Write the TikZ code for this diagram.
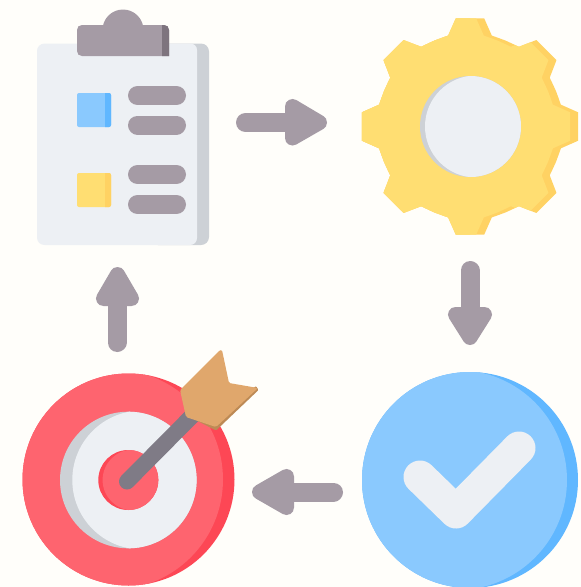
\documentclass[tikz,border=0pt]{standalone}
\definecolor{bgc}{HTML}{FFFEFA}
\definecolor{paper}{HTML}{EDF0F4}
\definecolor{papers}{HTML}{CDD1D6}
\definecolor{mauve}{HTML}{A59BA5}
\definecolor{mauved}{HTML}{7E747E}
\definecolor{sky}{HTML}{8AC9FE}
\definecolor{skyd}{HTML}{60B7FF}
\definecolor{sun}{HTML}{FFDE72}
\definecolor{sund}{HTML}{FFD263}
\definecolor{rose}{HTML}{FE646F}
\definecolor{rosed}{HTML}{FD4755}
\definecolor{shaft}{HTML}{7F7B86}
\definecolor{tan}{HTML}{E0A76C}
\definecolor{tand}{HTML}{BD8A55}
\newcommand\gearoutline{(-13:93.5) \foreach \a in {0,45,...,315}{
  -- ({\a-13.5}:93.5) -- ({\a-7.5}:109) -- ({\a+7.5}:109) -- ({\a+13.5}:93.5)
  -- ({\a+18}:93) -- ({\a+22.5}:93) -- ({\a+27}:93)} -- cycle}
\tikzset{
  bar/.style={line width=19pt,line cap=round,draw=mauve},
  arrowbar/.style={line width=19pt,line cap=round,draw=mauve},
  arrowtip/.style={fill=mauve,draw=mauve,line width=15pt,line join=round},
}
\begin{document}
\begin{tikzpicture}[x=1pt,y=-1pt]
\useasboundingbox (0,0) rectangle (581,587);
\fill[bgc] (0,0) rectangle (581,587);
% clipboard
\fill[papers,rounded corners=8pt] (150,43.5) rectangle (209,245);
\fill[paper] (45,43.5) -- (190,43.5) .. controls (194,43.5) and (197,46) .. (197,50) -- (197,238) .. controls (197,242) and (194,245) .. (190,245) -- (45,245) .. controls (40,245) and (37,242) .. (37,237) -- (37,51) .. controls (37,47) and (40,43.5) .. (45,43.5) -- cycle;
\fill[mauve] (123,30) circle (20.5);
\fill[mauve] (82,25) -- (164,25) .. controls (167,25) and (169,27) .. (169,30) -- (169,56) -- (82,56) .. controls (79,56) and (77,54) .. (77,51) -- (77,30) .. controls (77,27) and (79,25) .. (82,25) -- cycle;
\fill[mauved] (162,25) -- (164,25) .. controls (167,25) and (169,27) .. (169,30) -- (169,56) -- (162,56) -- cycle;
\fill[sky,rounded corners=2pt] (77,93) rectangle (111,127);
\begin{scope}\clip (105,90) rectangle (112,130);
\fill[skyd,rounded corners=2pt] (90,93) rectangle (111,127);\end{scope}
\fill[sun,rounded corners=2pt] (77,173) rectangle (111,207);
\begin{scope}\clip (105,170) rectangle (112,210);
\fill[sund,rounded corners=2pt] (90,173) rectangle (111,207);\end{scope}
\foreach \yy in {95.5,125,174.5,204.5}{\draw[bar] (137.5,\yy) -- (176.5,\yy);}
% gear
\begin{scope}[shift={(470,126.5)}]
\fill[sund] \gearoutline;
\begin{scope}
\clip (-115,-115) rectangle (0,115);
\fill[sun] \gearoutline;
\end{scope}
\begin{scope}
\clip \gearoutline;
\begin{scope}[shift={(-8,0)}]
\fill[sun] \gearoutline;
\end{scope}
\end{scope}
\end{scope}
\fill[papers] (470.5,126.5) circle (50.5);
\begin{scope}
\clip (470.5,126.5) circle (50.5);
\fill[paper] (476,126.5) circle (51);
\end{scope}
% arrows
\draw[arrowbar] (245.5,122.5) -- (295,122.5);
\fill[arrowtip] (292.5,106.5) -- (319.5,122.5) -- (292.5,138) -- cycle;
\draw[arrowbar] (470,270.5) -- (470,320);
\fill[arrowtip] (455.5,314.5) -- (484.5,314.5) -- (470,337.5) -- cycle;
\draw[arrowbar] (333.5,492) -- (284,492);
\fill[arrowtip] (286.5,476.5) -- (259.5,492) -- (286.5,507.5) -- cycle;
\draw[arrowbar] (117,342.5) -- (117,293);
\fill[arrowtip] (103.5,298.5) -- (117.5,274.5) -- (131.5,298.5) -- cycle;
% check circle
\fill[skyd] (470,480) circle (108);
\begin{scope}
\clip (470,480) circle (108);
\fill[sky] (457,480) circle (110);
\end{scope}
\draw[paper,line width=33pt,line cap=round,line join=round] (420,477) -- (456,512) -- (519,448);
% target
\fill[rosed] (128.5,479.5) circle (106);
\begin{scope}
\clip (128.5,479.5) circle (106);
\fill[rose] (113,479.5) circle (110);
\end{scope}
\fill[papers] (128.3,480) circle (68.3);
\begin{scope}
\clip (128.3,480) circle (68.3);
\fill[paper] (141.7,480) circle (69.4);
\end{scope}
\fill[rosed] (128.3,480) circle (30);
\begin{scope}
\clip (128.3,480) circle (30);
\fill[rose] (133,480) circle (30.4);
\end{scope}
\draw[shaft,line width=16pt,line cap=round] (127,481.5) -- (192,416);
\fill[tand,rounded corners=1pt] (186,415) -- (216,430.5) -- (258.5,390) -- (256,386) -- (216,420) -- cycle;
\fill[tan,rounded corners=1.5pt] (180,390) -- (220,350) -- (222,350) -- (229,383) -- (258,388) -- (216,427) -- (186,417) -- cycle;
\end{tikzpicture}
\end{document}
